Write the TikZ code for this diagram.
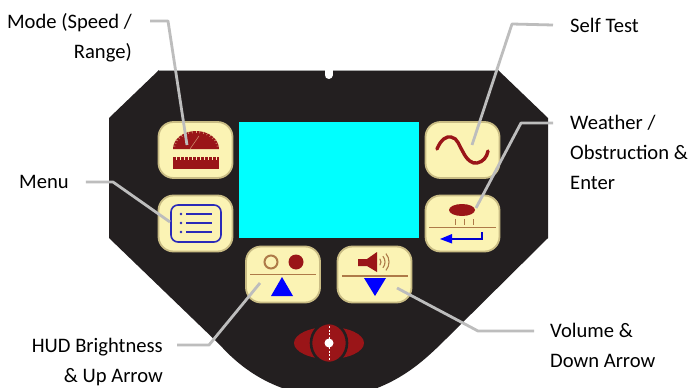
\documentclass[tikz,border=0pt]{standalone}
\usepackage{fontspec}
\setmainfont{Carlito}
\usetikzlibrary{calc,arrows.meta}
\definecolor{panel}{HTML}{231F20}
\definecolor{cream}{HTML}{FBF3B4}
\definecolor{rim}{HTML}{C9BC84}
\definecolor{maroon}{HTML}{9A1518}
\definecolor{rule}{HTML}{AE7A48}
\definecolor{leader}{HTML}{BDBDBD}
\definecolor{screen}{HTML}{00FFFF}
\definecolor{keyblue}{HTML}{0000FF}
\definecolor{listblue}{HTML}{2A2AB8}
\tikzset{
  keycap/.style={draw=rim, line width=1.8pt, fill=cream, rounded corners=15pt, minimum width=74pt, minimum height=56pt, inner sep=0pt},
  callout/.style={font=\fontsize{20.6}{30}\selectfont, inner sep=0pt},
  leaderline/.style={leader, line width=2.8pt, line join=round}
}
\begin{document}
\begin{tikzpicture}[x=1pt,y=-1pt]
  \useasboundingbox (0,0) rectangle (691,388);
  \fill[white] (0,0) rectangle (691,388);

  % panel outline
  \begin{scope}
    \clip (0,0) rectangle (691,388);
    \fill[panel] (159,70) -- (498,70) -- (548,118) -- (548,238) -- (447,338)
      .. controls (425,360) and (405,378) .. (372,390) -- (288,390)
      .. controls (260,381) and (238,365) .. (220,345) -- (109,238) -- (109,118) -- cycle;
  \end{scope}
  \draw[black!35, line width=0.8pt] (159,70) -- (498,70);
  \draw[white, line width=8pt, line cap=round] (328.5,68) -- (328.5,75);
  \fill[screen] (239,122) rectangle (419,238);

  \node[keycap] (btnMode)    at (195.5,150)  {};
  \node[keycap] (btnMenu)    at (195.5,223.5){};
  \node[keycap] (btnHud)     at (283,274.5)  {};
  \node[keycap] (btnVolume)  at (374.5,274.5){};
  \node[keycap] (btnTest)    at (462.5,150)  {};
  \node[keycap] (btnWeather) at (462.5,223.5){};

  % gauge and ruler
  \fill[maroon] (173,149) arc (180:360:23 and 18) -- cycle;
  \foreach \a in {190,200,...,350}
    \draw[cream!70!maroon, line width=0.5pt] ($(196,149)+(\a:21 and 16)$) -- ($(196,149)+(\a:23.5 and 18.5)$);
  \draw[cream!60!maroon, line width=0.5pt] (190,149) -- (199,136);
  \fill[maroon] (173,157) rectangle (219,169);
  \foreach \x in {176,180,...,216}
    \draw[cream, line width=0.6pt] (\x,156.5) -- (\x,160);

  % list
  \draw[listblue, line width=1.6pt, rounded corners=7pt] (171,205) rectangle (221,242);
  \foreach \y in {214,223,232} {
    \fill[listblue] (181,\y) circle (1.3pt);
    \draw[listblue, line width=1.5pt] (186,\y) -- (212,\y);
  }

  % sine wave
  \draw[maroon, line width=3.4pt, line cap=round] (437,149) .. controls (441,139) and (447,136) .. (451,137)
    .. controls (458,138) and (459,146) .. (463,152) .. controls (467,160) and (472,164) .. (477,163)
    .. controls (483,162) and (487,157) .. (488,151);

  % weather and enter
  \fill[maroon] (462,210) ellipse (13 and 6);
  \foreach \x in {455,464,473}
    \draw[rule, line width=1pt] (\x,219) -- (\x,225);
  \draw[rule, line width=1.8pt] (429,227.5) -- (496,227.5);
  \draw[keyblue!80!black, line width=1.5pt] (482,232) -- (482,239) -- (450,239);
  \fill[keyblue] (440,239) -- (452,234) -- (452,243.5) -- cycle;

  % brightness and up
  \draw[rule, line width=2pt, fill=cream] (271,262) circle (6.5);
  \fill[maroon] (296,262) circle (7.5);
  \draw[rule, line width=1.6pt] (250,274.5) -- (316,274.5);
  \fill[keyblue] (282,277) -- (293,296) -- (271,296) -- cycle;

  % speaker and down
  \fill[maroon] (358,259) -- (367,259) -- (377,252) -- (377,272) -- (367,266) -- (358,266) -- cycle;
  \foreach \r in {5,9,13}
    \draw[rule, line width=1.1pt] ($(376,262)+(-40:\r)$) arc (-40:40:\r);
  \draw[rule, line width=1.6pt] (342,276) -- (408,276);
  \fill[keyblue] (364,278) -- (386,278) -- (375,296) -- cycle;

  % logo
  \fill[maroon] (329,343) ellipse (35 and 16);
  \draw[panel, fill=maroon, line width=2.6pt] (329,343) ellipse (18 and 20);
  \draw[white, line width=0.6pt, dash pattern=on 2pt off 1.5pt] (329,326) -- (329,361);
  \fill[white] (329,343) circle (4.5);

  \node[callout, anchor=north east, align=right] (lblMode) at (132,13) {Mode (Speed /\\Range)};
  \node[callout, anchor=west] (lblMenu) at (19,182) {Menu};
  \node[callout, anchor=north east, align=right] (lblHud) at (163,338) {HUD Brightness\\\& Up Arrow};
  \node[callout, anchor=north west, align=left] (lblVolume) at (550,323) {Volume \&\\Down Arrow};
  \node[callout, anchor=west] (lblTest) at (570,25) {Self Test};
  \node[callout, anchor=north west, align=left] (lblWeather) at (570,115) {Weather /\\Obstruction \&\\Enter};

  \coordinate (stMode)    at (150,21);
  \coordinate (stHud)     at (177,345);
  \coordinate (stVolume)  at (534,331);
  \coordinate (stWeather) at (553,123);
  \coordinate (tipMode)    at ($(btnMode.center)+(-8.5,-5)$);
  \coordinate (tipMenu)    at ($(btnMenu.center)+(-25.5,-1.5)$);
  \coordinate (tipHud)     at ($(btnHud.center)+(-23,8.5)$);
  \coordinate (tipVolume)  at ($(btnVolume.center)+(22.5,13.5)$);
  \coordinate (tipTest)    at ($(btnTest.center)+(9.5,-5)$);
  \coordinate (tipWeather) at ($(btnWeather.center)+(13.5,-15.5)$);

  \draw[leaderline] (stMode) -- (168,21) -- (tipMode);
  \draw[leaderline] ([xshift=17pt]lblMenu.east) -- (113,182) -- (tipMenu);
  \draw[leaderline] (stHud) -- (209,345) -- (tipHud);
  \draw[leaderline] (stVolume) -- (478,331) -- (tipVolume);
  \draw[leaderline] ([xshift=-17pt]lblTest.west) -- (512,24) -- (tipTest);
  \draw[leaderline] (stWeather) -- (521,123) -- (tipWeather);
\end{tikzpicture}
\end{document}
